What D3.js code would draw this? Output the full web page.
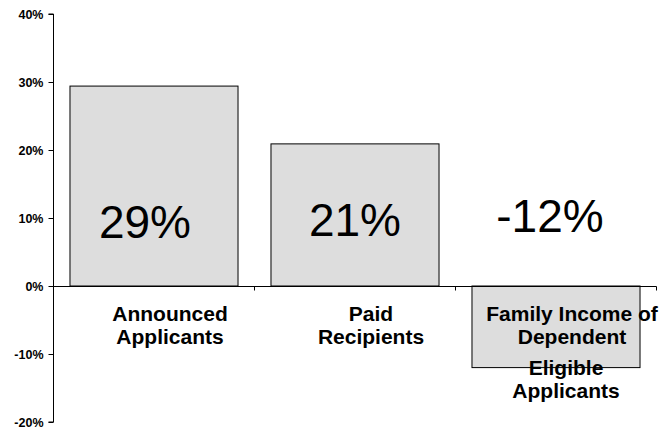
<!DOCTYPE html>
<html>
<head>
<meta charset="utf-8">
<script src="https://cdn.jsdelivr.net/npm/d3@7"></script>
<style>
  html, body { margin: 0; padding: 0; background: #fff; }
  svg { display: block; font-family: "Liberation Sans", Arial, sans-serif; }
</style>
</head>
<body>
<svg id="chart" width="666" height="430"></svg>
<script>
// Percentage change by group
const categories = ["Announced Applicants", "Paid Recipients", "Family Income of Dependent Eligible Applicants"];
const categoryLines = [
  ["Announced", "Applicants"],
  ["Paid", "Recipients"],
  ["Family Income of", "Dependent", "Eligible", "Applicants"]
];
const values = [0.294, 0.209, -0.12];
const yTicks = [-0.2, -0.1, 0, 0.1, 0.2, 0.3, 0.4];

const svg = d3.select("#chart");
const plotLeft = 53.5, plotRight = 656.5, plotTop = 14, plotBottom = 422;

const x = d3.scaleBand()
  .domain(categories)
  .range([plotLeft, plotRight])
  .paddingInner(0.164)
  .paddingOuter(0.082);

const y = d3.scaleLinear()
  .domain([-0.2, 0.4])
  .range([plotBottom, plotTop]);

// plain hyphen for negative numbers
const locale = d3.formatLocale({ decimal: ".", thousands: ",", grouping: [3], currency: ["$", ""], minus: "-" });
const pct = locale.format(".0%");

// value axis
const yAxis = svg.append("g")
  .attr("transform", `translate(${plotLeft},0)`)
  .call(d3.axisLeft(y).tickValues(yTicks).tickFormat(pct).tickSize(5).tickPadding(5));
yAxis.select(".domain").attr("stroke", "#000").attr("d", `M-5,${y(0.4)}H0V${y(-0.2)}H-5`);
yAxis.selectAll(".tick line").attr("stroke", "#000");
yAxis.selectAll(".tick text")
  .attr("fill", "#000")
  .style("font-size", "12.5px")
  .style("font-weight", "bold")
  .style("font-family", "'Liberation Sans', Arial, sans-serif");

// bars
svg.append("g").selectAll("rect")
  .data(values)
  .join("rect")
  .attr("x", (d, i) => x(categories[i]))
  .attr("width", x.bandwidth())
  .attr("y", d => y(Math.max(0, d)))
  .attr("height", d => Math.abs(y(d) - y(0)))
  .attr("fill", "#dddddd")
  .attr("stroke", "#000")
  .attr("stroke-width", 1);

// zero line with category dividers
const y0 = Math.round(y(0)) + 0.5;
svg.append("line")
  .attr("x1", plotLeft).attr("x2", plotRight)
  .attr("y1", y0).attr("y2", y0)
  .attr("stroke", "#000");
const step = x.step();
svg.append("g").selectAll("line")
  .data(d3.range(1, categories.length + 1))
  .join("line")
  .attr("x1", i => plotLeft + i * step)
  .attr("x2", i => plotLeft + i * step)
  .attr("y1", y0).attr("y2", y0 + 4)
  .attr("stroke", "#000");

// value labels, each nudged slightly within its band
const labelNudge = [[-9, -48], [0, -50], [-6, -54]];
svg.append("g").selectAll("text")
  .data(values)
  .join("text")
  .attr("x", (d, i) => x(categories[i]) + x.bandwidth() / 2 + labelNudge[i][0])
  .attr("y", (d, i) => y(0) + labelNudge[i][1])
  .attr("text-anchor", "middle")
  .style("font-size", "46px")
  .attr("fill", "#000")
  .text(d => pct(d));

// category labels
const catG = svg.append("g");
categoryLines.forEach((lines, i) => {
  const cx = x(categories[i]) + x.bandwidth() / 2 + 16;
  const t = catG.append("text")
    .attr("text-anchor", "middle")
    .style("font-size", "21px")
    .style("font-weight", "bold")
    .attr("fill", "#000");
  lines.forEach((ln, j) => {
    t.append("tspan")
      .attr("x", cx - (j >= 2 ? 6 : 0))
      .attr("y", 320.5 + j * 23.5 + (j >= 2 ? 7 : 0))
      .text(ln);
  });
});
</script>
</body>
</html>
